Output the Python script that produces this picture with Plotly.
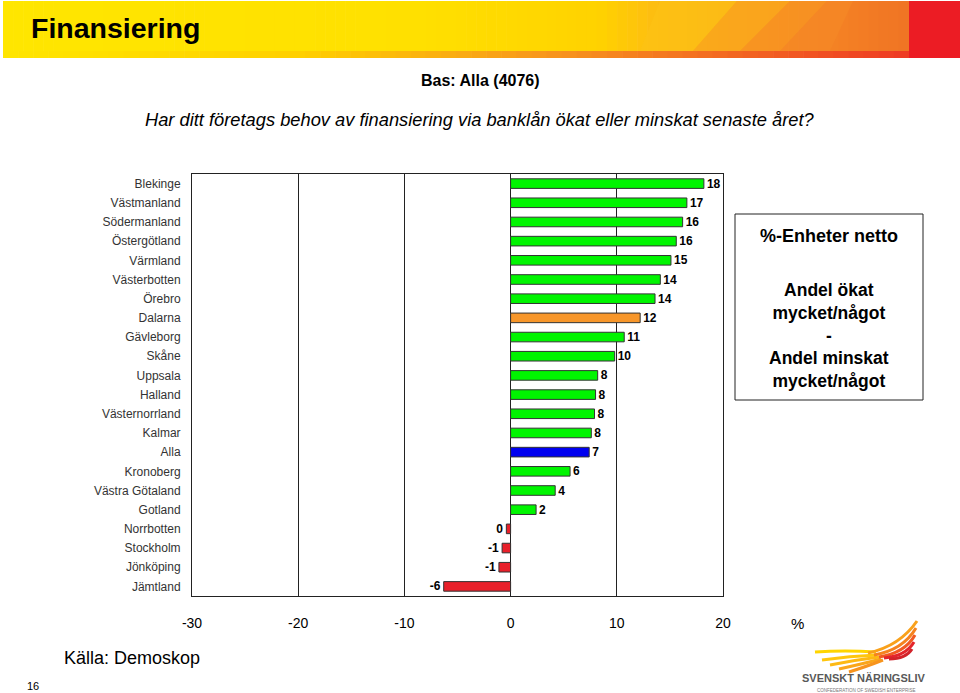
import plotly.graph_objects as go

# ---------------- data ----------------
regions = ["Blekinge", "Västmanland", "Södermanland", "Östergötland", "Värmland",
           "Västerbotten", "Örebro", "Dalarna", "Gävleborg", "Skåne", "Uppsala",
           "Halland", "Västernorrland", "Kalmar", "Alla", "Kronoberg",
           "Västra Götaland", "Gotland", "Norrbotten", "Stockholm", "Jönköping",
           "Jämtland"]
net_values = [18.2, 16.6, 16.2, 15.6, 15.1, 14.1, 13.6, 12.2, 10.7, 9.8, 8.2,
              8.0, 7.9, 7.6, 7.4, 5.6, 4.2, 2.4, -0.4, -0.8, -1.1, -6.3]
x_ticks = [-30, -20, -10, 0, 10, 20]

# ---------------- geometry helpers ----------------
W, H = 960, 693
PL, PR, PT, PB = 192, 723, 174, 596


def px(x):
    return (x - PL) / (PR - PL)


def py(y):
    return (PB - y) / (PB - PT)


GREEN, ORANGE, BLUE, RED = "#00F500", "#F7962A", "#0000F0", "#E8202A"


def bar_color(name, v):
    if name == "Alla":
        return BLUE
    if name == "Dalarna":
        return ORANGE
    return GREEN if v > 0 else RED


colors = [bar_color(n, v) for n, v in zip(regions, net_values)]
labels = [str(int(round(v))) if round(v) != 0 else "0" for v in net_values]

fig = go.Figure()
fig.add_trace(go.Bar(
    y=regions, x=net_values, orientation="h",
    marker=dict(color=colors, line=dict(color="#333333", width=1)),
    text=labels, textposition="outside", cliponaxis=False, constraintext="none",
    textfont=dict(family="Arial, Liberation Sans", size=12, color="black", weight="bold"),
    hoverinfo="skip",
))

shapes = []
annotations = []

# ---------------- header band ----------------
def lerp(c1, c2, t):
    a = [int(c1[i:i + 2], 16) for i in (1, 3, 5)]
    b = [int(c2[i:i + 2], 16) for i in (1, 3, 5)]
    return "#%02x%02x%02x" % tuple(int(round(a[k] + (b[k] - a[k]) * t)) for k in range(3))


stops = [(3, "#FFE600"), (420, "#FFE000"), (600, "#FFD200"), (660, "#FDBB12"),
         (740, "#F99A1F"), (820, "#F58424"), (909, "#F07424")]
N = 90
for i in range(N):
    x0 = 3 + (909 - 3) * i / N
    x1 = 3 + (909 - 3) * (i + 1) / N + 0.6
    xm = (x0 + x1) / 2
    for j in range(len(stops) - 1):
        if stops[j][0] <= xm <= stops[j + 1][0]:
            t = (xm - stops[j][0]) / (stops[j + 1][0] - stops[j][0])
            c = lerp(stops[j][1], stops[j + 1][1], t)
            break
    shapes.append(dict(type="rect", xref="paper", yref="paper", layer="below",
                       x0=px(x0), x1=px(x1), y0=py(51), y1=py(1),
                       fillcolor=c, line=dict(width=0)))

# slanted stripes
stripes = [((640, 660, 737, 693), "#FCC214"), ((693, 737, 790, 740), "#FAA91C"),
           ((740, 790, 827, 780), "#F89322"), ((780, 827, 853, 830), "#F58726")]
for (xb0, xt0, xt1, xb1), c in stripes:
    path = "M %f,%f L %f,%f L %f,%f L %f,%f Z" % (
        px(xb0), py(51), px(xt0), py(1), px(xt1), py(1), px(xb1), py(51))
    shapes.append(dict(type="path", xref="paper", yref="paper", path=path,
                       fillcolor=c, line=dict(width=0), opacity=0.8))

# bottom strip
bstops = [(3, "#FFE600"), (300, "#FFD000"), (560, "#F7931E"), (909, "#EE3A24")]
N2 = 60
for i in range(N2):
    x0 = 3 + (909 - 3) * i / N2
    x1 = 3 + (909 - 3) * (i + 1) / N2 + 0.6
    xm = (x0 + x1) / 2
    for j in range(len(bstops) - 1):
        if bstops[j][0] <= xm <= bstops[j + 1][0]:
            t = (xm - bstops[j][0]) / (bstops[j + 1][0] - bstops[j][0])
            c = lerp(bstops[j][1], bstops[j + 1][1], t)
            break
    shapes.append(dict(type="rect", xref="paper", yref="paper",
                       x0=px(x0), x1=px(x1), y0=py(58), y1=py(51),
                       fillcolor=c, line=dict(width=0)))
shapes.append(dict(type="rect", xref="paper", yref="paper",
                   x0=px(909), x1=px(960), y0=py(58), y1=py(1),
                   fillcolor="#EC1C24", line=dict(width=0)))

# ---------------- legend-like box ----------------
shapes.append(dict(type="rect", xref="paper", yref="paper",
                   x0=px(735), x1=px(923), y0=py(400), y1=py(214),
                   line=dict(color="#222222", width=1), fillcolor="white"))

# ---------------- logo wing ----------------
feathers = [
    # left (yellow) feathers: body -> outer end
    ((876, 652), (845, 650), (815, 652), "#FFD500", 3),
    ((877, 655), (850, 656), (822, 660), "#FFC60E", 3),
    ((879, 657), (855, 660), (830, 665), "#FDB913", 3),
    ((881, 659), (862, 664), (839, 669), "#FAA61A", 3),
    ((883, 660), (868, 666), (849, 672), "#F7941D", 3),
    # right feathers: body -> tip
    ((868, 653), (900, 646), (917, 621), "#F9A11B", 3),
    ((874, 655), (903, 650), (916, 628), "#F5831F", 3),
    ((879, 657), (905, 653), (915, 635), "#F15A22", 3),
    ((884, 658), (906, 656), (914, 642), "#E4252B", 3),
    ((889, 659), (906, 659), (912, 649), "#D2232A", 3),
]
for (a, q, b, c, w) in feathers:
    path = "M %f,%f Q %f,%f %f,%f" % (px(a[0]), py(a[1]), px(q[0]), py(q[1]), px(b[0]), py(b[1]))
    shapes.append(dict(type="path", xref="paper", yref="paper", path=path,
                       line=dict(color=c, width=w)))

# ---------------- texts ----------------
def note(x, y, text, size, bold=False, italic=False, color="black", xanchor="center",
         family="Arial, Liberation Sans"):
    if bold:
        text = "<b>%s</b>" % text
    if italic:
        text = "<i>%s</i>" % text
    annotations.append(dict(xref="paper", yref="paper", x=px(x), y=py(y), text=text,
                            showarrow=False, xanchor=xanchor, yanchor="middle",
                            font=dict(family=family, size=size, color=color)))


note(29, 28, "Finansiering", 28.5, bold=True, xanchor="left")
note(480, 81, "Bas: Alla (4076)", 16, bold=True)
note(479, 119, "Har ditt företags behov av finansiering via banklån ökat eller minskat senaste året?",
     18.3, italic=True)
note(829, 236, "%-Enheter netto", 18, bold=True)
annotations.append(dict(xref="paper", yref="paper", x=px(829), y=py(335),
                        text="<b>Andel ökat<br>mycket/något<br>-<br>Andel minskat<br>mycket/något</b>",
                        showarrow=False, xanchor="center", yanchor="middle",
                        font=dict(family="Arial, Liberation Sans", size=17.5, color="black")))
note(797, 623, "%", 15)
note(62, 658, "Källa: Demoskop", 18, xanchor="left")
note(33, 686, "16", 11, xanchor="center")
note(864, 678, "SVENSKT NÄRINGSLIV", 11, bold=True, color="#595959")
note(866, 690, "CONFEDERATION OF SWEDISH ENTERPRISE", 4.5, color="#777777")

fig.update_layout(
    width=W, height=H,
    margin=dict(l=PL, r=W - PR, t=PT, b=H - PB, pad=0),
    paper_bgcolor="white", plot_bgcolor="white",
    showlegend=False, bargap=0.5,
    shapes=shapes, annotations=annotations,
    xaxis=dict(range=[-30, 20], tickvals=x_ticks, ticktext=[str(t) for t in x_ticks],
               showgrid=True, gridcolor="#222222", gridwidth=1, zeroline=False,
               showline=True, linecolor="#222222", linewidth=1, mirror=True,
               ticks="", ticklabelstandoff=14,
               tickfont=dict(family="Arial, Liberation Sans", size=14, color="black"),
               fixedrange=True),
    yaxis=dict(categoryorder="array", categoryarray=regions, autorange="reversed",
               showgrid=False, showline=True, linecolor="#222222", linewidth=1, mirror=True,
               ticks="", ticklabelstandoff=8,
               tickfont=dict(family="Arial, Liberation Sans", size=12, color="#333333"),
               fixedrange=True),
)

fig.write_html("out.html", config={"displayModeBar": False},
               post_script="document.body.style.margin='0';document.body.style.padding='0';")
